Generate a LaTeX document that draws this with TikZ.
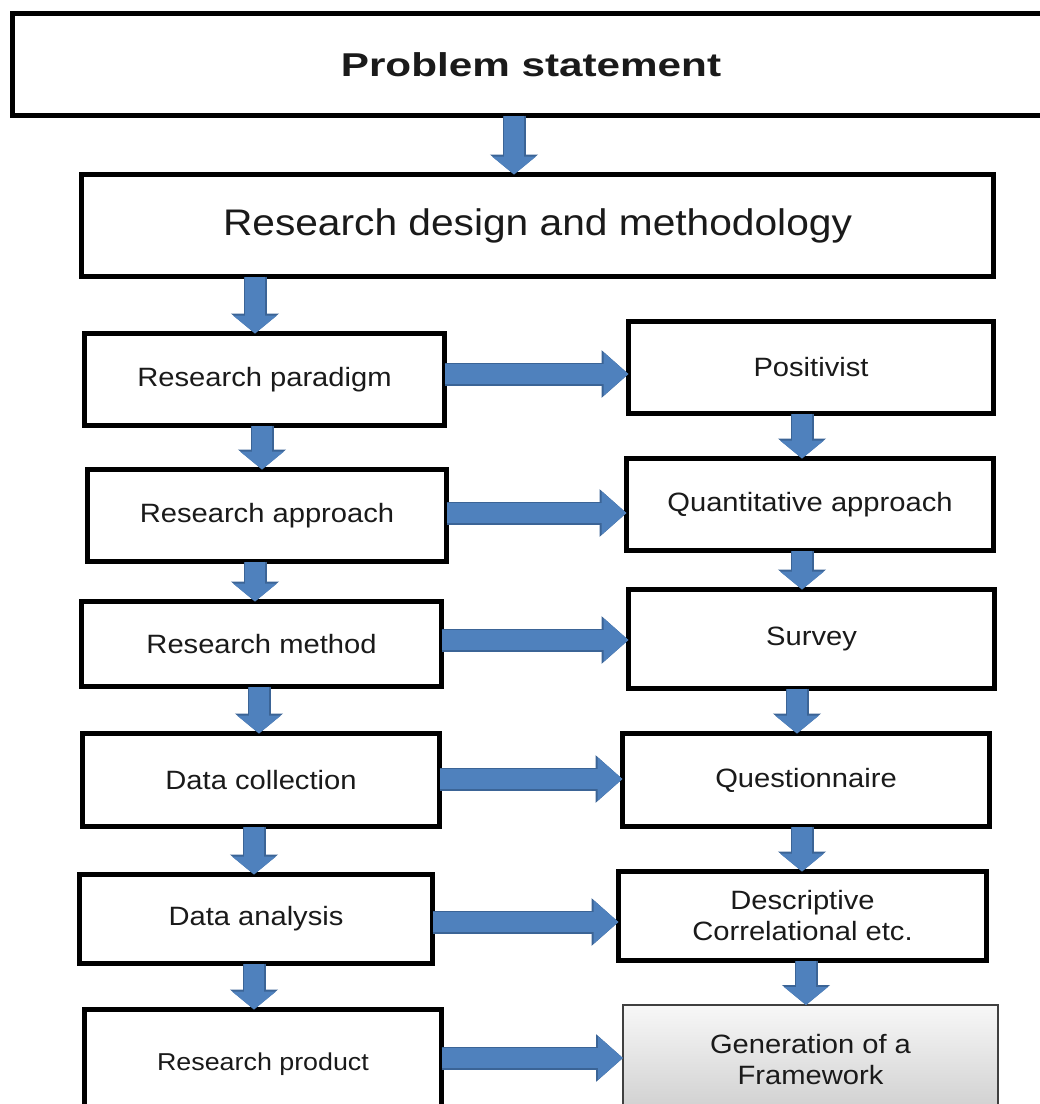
\documentclass[tikz,border=0pt]{standalone}
\usepackage{fontspec}
\setmainfont{Liberation Sans}[FakeStretch=1.1]
\newfontfamily\psfont{Liberation Sans}[FakeStretch=1.28]
\usetikzlibrary{arrows.meta}
\definecolor{arrowblue}{HTML}{4F81BD}
\definecolor{arrowdark}{HTML}{3B6496}
\definecolor{txt}{HTML}{1A1A1A}
\begin{document}
\begin{tikzpicture}[x=1pt,y=-1pt,
  box/.style={draw=black, line width=5pt, fill=white, rectangle, inner sep=0pt, outer sep=0pt,
    align=center, text=txt, font=\fontsize{26.5}{31}\selectfont},
  varrow/.style={draw=arrowblue, line width=20pt, -{Triangle[width=43pt,length=18pt]},
    preaction={draw=arrowdark, line width=23pt, -{Triangle[width=47pt,length=20pt]}}},
  harrow/.style={draw=arrowblue, line width=20pt, -{Triangle[width=42pt,length=25pt]},
    preaction={draw=arrowdark, line width=23pt, -{Triangle[width=46pt,length=27pt]}}},
]
\useasboundingbox (0,0) rectangle (1040,1104);
\clip (0,0) rectangle (1040,1104);

% boxes
\node[box, minimum width=1037pt, minimum height=102pt, font=\psfont\fontsize{33}{40}\selectfont\bfseries] (ps) at (531,64.5) {Problem statement};
\node[box, minimum width=912pt, minimum height=102pt, font=\fontsize{37}{44}\selectfont] (rdm) at (537.5,225.5) {Research design and methodology};

\node[box, minimum width=360pt, minimum height=92pt] (rp) at (264.5,379.5) {Research paradigm};
\node[box, minimum width=365pt, minimum height=92pt] (pos) at (811,367.5) {Positivist};

\node[box, minimum width=359pt, minimum height=92pt] (ra) at (267,515.5) {Research approach};
\node[box, minimum width=367pt, minimum height=92pt] (qa) at (810,504.5) {Quantitative approach};

\node[box, minimum width=360pt, minimum height=85pt] (rm) at (261.5,644) {Research method};
\node[box, minimum width=366pt, minimum height=99pt] (sv) at (811.5,639) {Survey};

\node[box, minimum width=357pt, minimum height=93pt] (dc) at (261,780) {Data collection};
\node[box, minimum width=367pt, minimum height=93pt] (qn) at (806,780) {Questionnaire};

\node[box, minimum width=353pt, minimum height=89pt] (da) at (256,919) {Data analysis};
\node[box, minimum width=368pt, minimum height=89pt] (ds) at (802.5,916) {Descriptive\\Correlational etc.};

\node[box, minimum width=357pt, minimum height=104pt, font=\fontsize{24.4}{28}\selectfont, text depth=0pt] (rpd) at (263,1061.5) {Research product};
\node[box, draw=black!75, line width=2pt, top color=gray!6, bottom color=gray!38,
  minimum width=375pt, minimum height=110pt] (gf) at (810.5,1060) {Generation of a\\Framework};

% vertical arrows
\draw[varrow] (ps.south -| 514,0) -- (rdm.north -| 514,0);
\draw[varrow] (rdm.south -| 255,0) -- (rp.north -| 255,0);
\draw[varrow] (rp.south -| 262,0) -- (ra.north -| 262,0);
\draw[varrow] (pos.south -| 802,0) -- (qa.north -| 802,0);
\draw[varrow] (ra.south -| 255,0) -- (rm.north -| 255,0);
\draw[varrow] (qa.south -| 802,0) -- (sv.north -| 802,0);
\draw[varrow] (rm.south -| 259,0) -- (dc.north -| 259,0);
\draw[varrow] (sv.south -| 797,0) -- (qn.north -| 797,0);
\draw[varrow] (dc.south -| 254,0) -- (da.north -| 254,0);
\draw[varrow] (qn.south -| 802,0) -- (ds.north -| 802,0);
\draw[varrow] (da.south -| 254,0) -- (rpd.north -| 254,0);
\draw[varrow] (ds.south -| 806,0) -- (gf.north -| 806,0);

% horizontal arrows
\draw[harrow] (rp.east |- 0,374) -- (pos.west |- 0,374);
\draw[harrow] (ra.east |- 0,513) -- (qa.west |- 0,513);
\draw[harrow] (rm.east |- 0,640) -- (sv.west |- 0,640);
\draw[harrow] (dc.east |- 0,779) -- (qn.west |- 0,779);
\draw[harrow] (da.east |- 0,922) -- (ds.west |- 0,922);
\draw[harrow] (rpd.east |- 0,1058) -- (gf.west |- 0,1058);
\end{tikzpicture}
\end{document}
